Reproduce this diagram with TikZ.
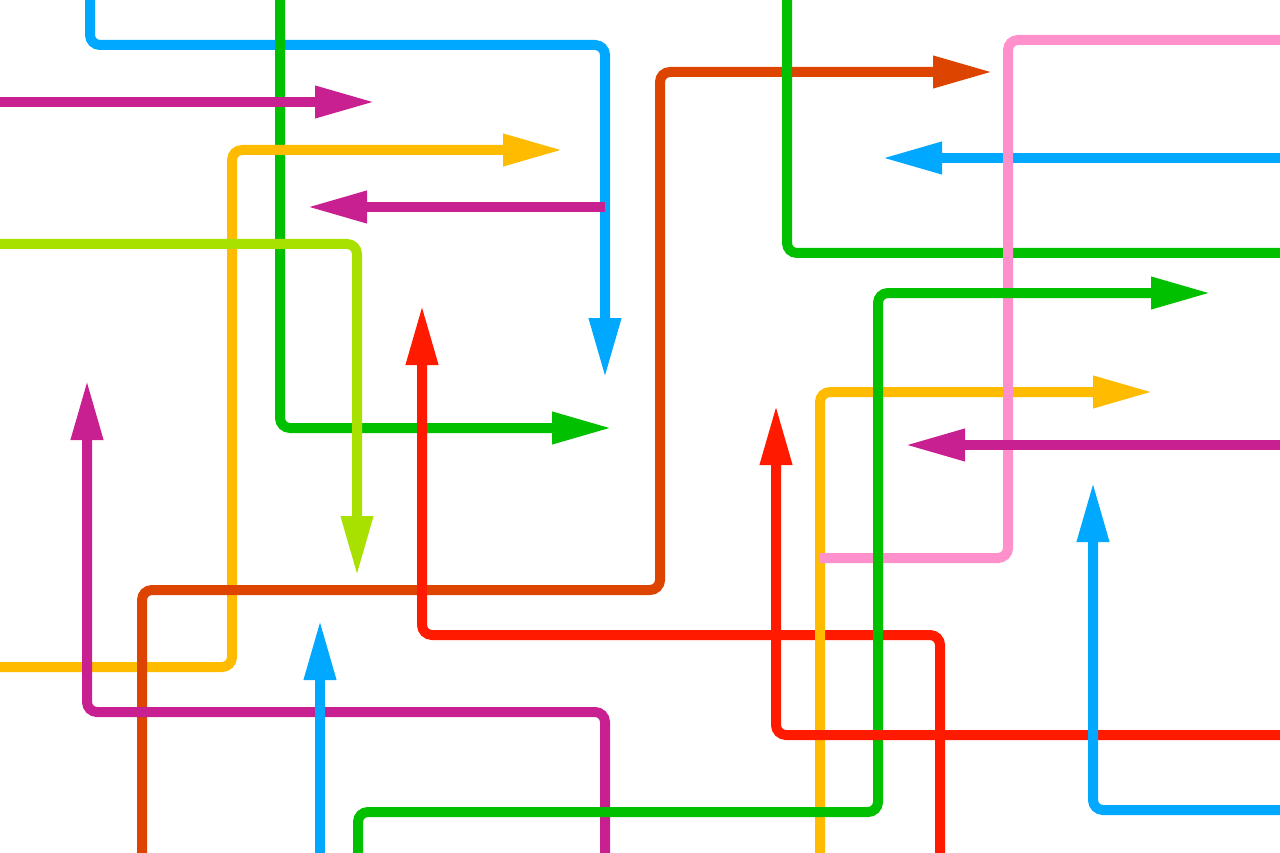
\documentclass[tikz,border=0pt]{standalone}
\usetikzlibrary{arrows.meta}
\definecolor{sky}{HTML}{00A8FF}
\definecolor{grn}{HTML}{00C000}
\definecolor{mag}{HTML}{C82090}
\definecolor{yel}{HTML}{FFBB00}
\definecolor{lime}{HTML}{A8E000}
\definecolor{rust}{HTML}{DD4400}
\definecolor{rd}{HTML}{FF1A00}
\definecolor{pnk}{HTML}{FF90CC}
\tikzset{
  wire/.style={line width=10pt,rounded corners=10pt},
  tip/.style={-{Triangle[length=60pt,width=30pt]}}
}
\begin{document}
\begin{tikzpicture}[x=1pt,y=-1pt]
\useasboundingbox (0,0) rectangle (1280,853);
% linke Seite
\draw[wire,tip,sky] (90,-10) -- (90,45) -- (605,45) -- (605,378);
\draw[wire,tip,grn] (280,-10) -- (280,428) -- (612,428);
\draw[wire,tip,mag] (-10,102) -- (375,102);
\draw[wire,tip,yel] (-10,667) -- (232,667) -- (232,150) -- (563,150);
\draw[wire,tip,mag] (605,207) -- (307,207);
\draw[wire,tip,lime] (-10,244) -- (357,244) -- (357,576);
\draw[wire,tip,rust] (142,863) -- (142,590) -- (660,590) -- (660,72) -- (993,72);
\draw[wire,tip,rd] (940,863) -- (940,635) -- (422,635) -- (422,305);
\draw[wire,tip,mag] (605,863) -- (605,712) -- (87,712) -- (87,380);
\draw[wire,tip,sky] (320,863) -- (320,620);
% rechte Seite
\draw[wire,grn] (787,-10) -- (787,253) -- (1290,253);
\draw[wire,tip,sky] (1290,158) -- (882,158);
\draw[wire,tip,yel] (820,863) -- (820,392) -- (1153,392);
\draw[wire,pnk] (1290,40) -- (1008,40) -- (1008,558) -- (820,558);
\draw[wire,tip,grn] (358,863) -- (358,812) -- (878,812) -- (878,293) -- (1211,293);
\draw[wire,tip,mag] (1290,445) -- (905,445);
\draw[wire,tip,rd] (1290,735) -- (776,735) -- (776,405);
\draw[wire,tip,sky] (1290,810) -- (1093,810) -- (1093,482);
\end{tikzpicture}
\end{document}
